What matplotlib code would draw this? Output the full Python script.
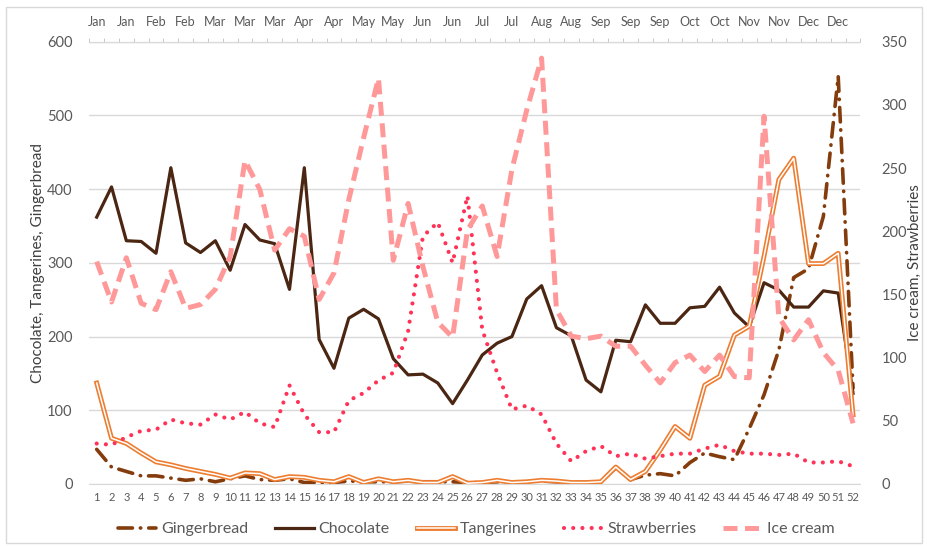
import matplotlib
matplotlib.use("Agg")
import matplotlib.pyplot as plt
import matplotlib.patheffects as pe
from matplotlib.lines import Line2D
from matplotlib.patches import Rectangle

plt.rcParams['font.family'] = ['Lato', 'DejaVu Sans']

# weekly sales data
weeks = list(range(1, 53))
months = ['Jan', 'Jan', 'Feb', 'Feb', 'Mar', 'Mar', 'Mar', 'Apr', 'Apr', 'May', 'May', 'Jun', 'Jun',
          'Jul', 'Jul', 'Aug', 'Aug', 'Sep', 'Sep', 'Sep', 'Oct', 'Oct', 'Nov', 'Nov', 'Dec', 'Dec']

gingerbread = [47, 23, 17, 11, 11, 8, 5, 7, 3, 7, 11, 6, 5, 7, 2, 2, 2, 4, 3, 3, 3, 4, 3, 3, 3, 2,
               2, 3, 3, 3, 4, 3, 2, 2, 3, 22, 6, 12, 14, 11, 29, 42, 37, 33, 75, 121, 182, 280, 292, 363, 553, 130]
chocolate = [362, 403, 330, 329, 313, 429, 327, 314, 330, 290, 352, 331, 326, 264, 429, 196, 157, 225,
             237, 224, 170, 148, 149, 137, 109, 141, 175, 191, 200, 251, 269, 212, 201, 141, 125, 195,
             193, 243, 218, 218, 239, 241, 267, 232, 213, 273, 263, 240, 240, 262, 259, 123]
tangerines = [137, 62, 55, 42, 30, 26, 21, 17, 13, 8, 15, 14, 6, 10, 9, 5, 3, 10, 2, 7, 3, 5, 2, 2, 10, 1,
              2, 5, 2, 3, 5, 4, 2, 2, 3, 23, 6, 17, 46, 78, 62, 134, 146, 202, 214, 309, 413, 442, 299, 299, 313, 94]
strawberries = [32, 31, 37, 42, 43, 51, 48, 47, 55, 51, 57, 48, 45, 78, 55, 41, 41, 66, 72, 82, 88, 121,
                196, 207, 175, 228, 122, 88, 59, 62, 55, 32, 18, 26, 30, 22, 24, 20, 22, 24, 24, 28, 31, 26,
                24, 24, 23, 24, 17, 17, 18, 14]
ice_cream = [176, 144, 179, 143, 138, 168, 139, 142, 154, 180, 256, 233, 185, 202, 196, 146, 167, 225,
             274, 321, 177, 222, 172, 128, 116, 201, 220, 180, 249, 296, 337, 138, 117, 115, 117, 109,
             109, 94, 80, 96, 102, 89, 102, 85, 84, 291, 132, 114, 130, 104, 90, 48]

c_ginger = '#843C0C'
c_choc = '#4B2612'
c_tang = '#ED7D31'
c_straw = '#FF3358'
c_ice = '#FF9999'
c_text = '#595959'
c_grid = '#D9D9D9'

ginger_style = dict(color=c_ginger, lw=2.6, linestyle=(0, (4, 2.2, 0.1, 2.2)), dash_capstyle='round')
choc_style = dict(color=c_choc, lw=2.3)
tang_style = dict(color='white', lw=1.1,
                  path_effects=[pe.Stroke(linewidth=3.5, foreground=c_tang), pe.Normal()])
straw_style = dict(color=c_straw, lw=3.0, linestyle=(0, (0.01, 2.2)), dash_capstyle='round')
ice_style = dict(color=c_ice, lw=3.6, linestyle=(0, (2.8, 1.5)))

fig = plt.figure(figsize=(9.28, 5.46), dpi=100)
ax = fig.add_axes([0.0962, 0.1136, 0.831, 0.81])
ax2 = ax.twinx()

ax.plot(weeks, gingerbread, zorder=3, **ginger_style)
ax.plot(weeks, chocolate, zorder=3, **choc_style)
ax.plot(weeks, tangerines, zorder=3, **tang_style)
ax2.plot(weeks, strawberries, zorder=3, **straw_style)
ax2.plot(weeks, ice_cream, zorder=3, **ice_style)

ax.set_xlim(0.5, 52.5)
ax.set_ylim(0, 600)
ax2.set_ylim(0, 350)
ax.set_yticks(range(0, 601, 100))
ax2.set_yticks(range(0, 351, 50))
ax.set_xticks(weeks)
ax.set_xticklabels([str(w) for w in weeks])

ax.grid(axis='y', color=c_grid, lw=1)
ax.set_axisbelow(True)

for s in ['left', 'right']:
    ax.spines[s].set_visible(False)
for s in ax2.spines.values():
    s.set_visible(False)
ax.spines['bottom'].set_color(c_grid)
ax.spines['top'].set_color(c_grid)

ax.tick_params(axis='x', length=0, labelsize=8, colors=c_text, pad=6)
ax.tick_params(axis='y', length=0, labelsize=10.5, colors=c_text, pad=12)
ax2.tick_params(axis='y', length=0, labelsize=10.5, colors=c_text, pad=15)

top = ax.secondary_xaxis('top')
top.set_xticks(weeks[::2])
top.set_xticklabels(months)
top.set_xticks([w + 0.5 for w in range(0, 53)], minor=True)
top.tick_params(axis='x', which='major', length=0, labelsize=9, colors=c_text, pad=10)
top.tick_params(axis='x', which='minor', length=3, color='#BFBFBF', direction='out')
top.spines['top'].set_color(c_grid)

ax.set_ylabel('Chocolate, Tangerines, Gingerbread', fontsize=11, color='#404040')
ax.yaxis.set_label_coords(-0.058, 0.5)
ax2.set_ylabel('Ice cream, Strawberries', fontsize=11, color='#404040')
ax2.yaxis.set_label_coords(1.061, 0.5)

handles = [Line2D([], [], **ginger_style), Line2D([], [], **choc_style), Line2D([], [], **tang_style),
           Line2D([], [], **straw_style), Line2D([], [], **ice_style)]
leg = fig.legend(handles, ['Gingerbread', 'Chocolate', 'Tangerines', 'Strawberries', 'Ice cream'],
                 loc='center', bbox_to_anchor=(0.513, 0.031), ncol=5, frameon=False,
                 fontsize=11.5, handlelength=2.4, handletextpad=0.3, columnspacing=1.7)
for t in leg.get_texts():
    t.set_color(c_text)

fig.patches.append(Rectangle((0.007, 0.006), 0.986, 0.982, transform=fig.transFigure,
                             fill=False, edgecolor=c_grid, lw=1))

fig.savefig('out.png', dpi=100)
